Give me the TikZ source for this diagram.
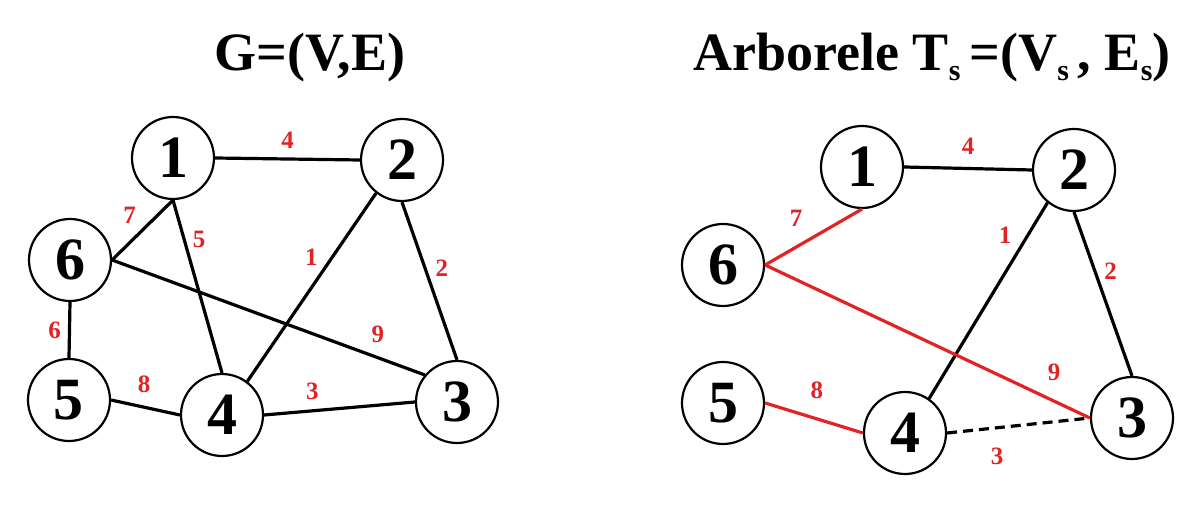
\documentclass[tikz,border=0pt]{standalone}
\usepackage{fontspec}
\setmainfont{Liberation Serif}
\definecolor{wred}{RGB}{226,35,38}
\newcommand{\lowsub}[1]{\raisebox{-.4ex}{\fontsize{15}{15}\selectfont #1}}
\tikzset{
  vertex/.style={circle,draw,line width=1.1pt,minimum size=41pt,inner sep=0pt,font=\fontsize{30}{30}\selectfont\bfseries},
  edge/.style={line width=1.6pt},
  tree/.style={edge,wred},
  wt/.style={text=wred,font=\fontsize{12.5}{12.5}\selectfont\bfseries,inner sep=1pt},
  title/.style={font=\fontsize{27}{27}\selectfont\bfseries}
}
\begin{document}
\begin{tikzpicture}[x=0.5pt,y=-0.5pt]
    \useasboundingbox (0,0) rectangle (1200,507);
    \node[title](tg) at (310,58){G=(V,E)};
    \node[title](tt) at (932,58){Arborele T\lowsub{s}\,=(V\lowsub{s}\,, E\lowsub{s})};
    \foreach \n/\x/\y in {1/173/158,2/402/160,3/457/402,4/222/415,5/69/400,6/70/260}
    \node[vertex](g\n) at (\x,\y){\n};
    \foreach \n/\x/\y in {1/862/167,2/1074/170,3/1132/418,4/905/433,5/723/403,6/723/265}
    \node[vertex](t\n) at (\x,\y){\n};
    \draw[edge](g1.east)--node[wt,above=3.5pt](l12){4}(g2.west);
    \draw[edge](g6.east)--node[wt,above left=1.5pt](l61){7}(g1.south);
    \draw[edge](g1.south)--node[wt,pos=.23,right=2.5pt](l14){5}(g4.north);
    \draw[edge](g2.232)--node[wt,pos=.34,left=5.5pt](l24){1}(g4.53);
    \draw[edge](g2.south)--node[wt,pos=.42,right=3.5pt](l23){2}(g3.north);
    \draw[edge](g6.east)--node[wt,pos=.85,above=5.5pt](l63){9}(g3.140);
    \draw[edge](g6.south)--node[wt,left=2.5pt](l65){6}(g5.north);
    \draw[edge](g5.east)--node[wt,pos=.48,above=5.5pt](l54){8}(g4.west);
    \draw[edge](g4.east)--node[wt,pos=.32,above=3.5pt](l43){3}(g3.west);
    \draw[edge](t1.east)--node[wt,above=5pt](m12){4}(t2.west);
    \draw[tree](t6.east)--node[wt,pos=.32,above=8.5pt](m61){7}(t1.south);
    \draw[edge](t2.231)--node[wt,pos=.165,left=6.5pt](m24){1}(t4.55);
    \draw[edge](t2.south)--node[wt,pos=.36,right=3pt](m23){2}(t3.north);
    \draw[tree](t6.east)--node[wt,pos=.89,above=8.5pt](m63){9}(t3.west);
    \draw[tree](t5.east)--node[wt,pos=.53,above=8.5pt](m54){8}(t4.west);
    \draw[edge,dash pattern=on 5pt off 3pt](t4.east)--node[wt,pos=.35,below=8.5pt](m43){3}(t3.west);
\end{tikzpicture}
\end{document}
